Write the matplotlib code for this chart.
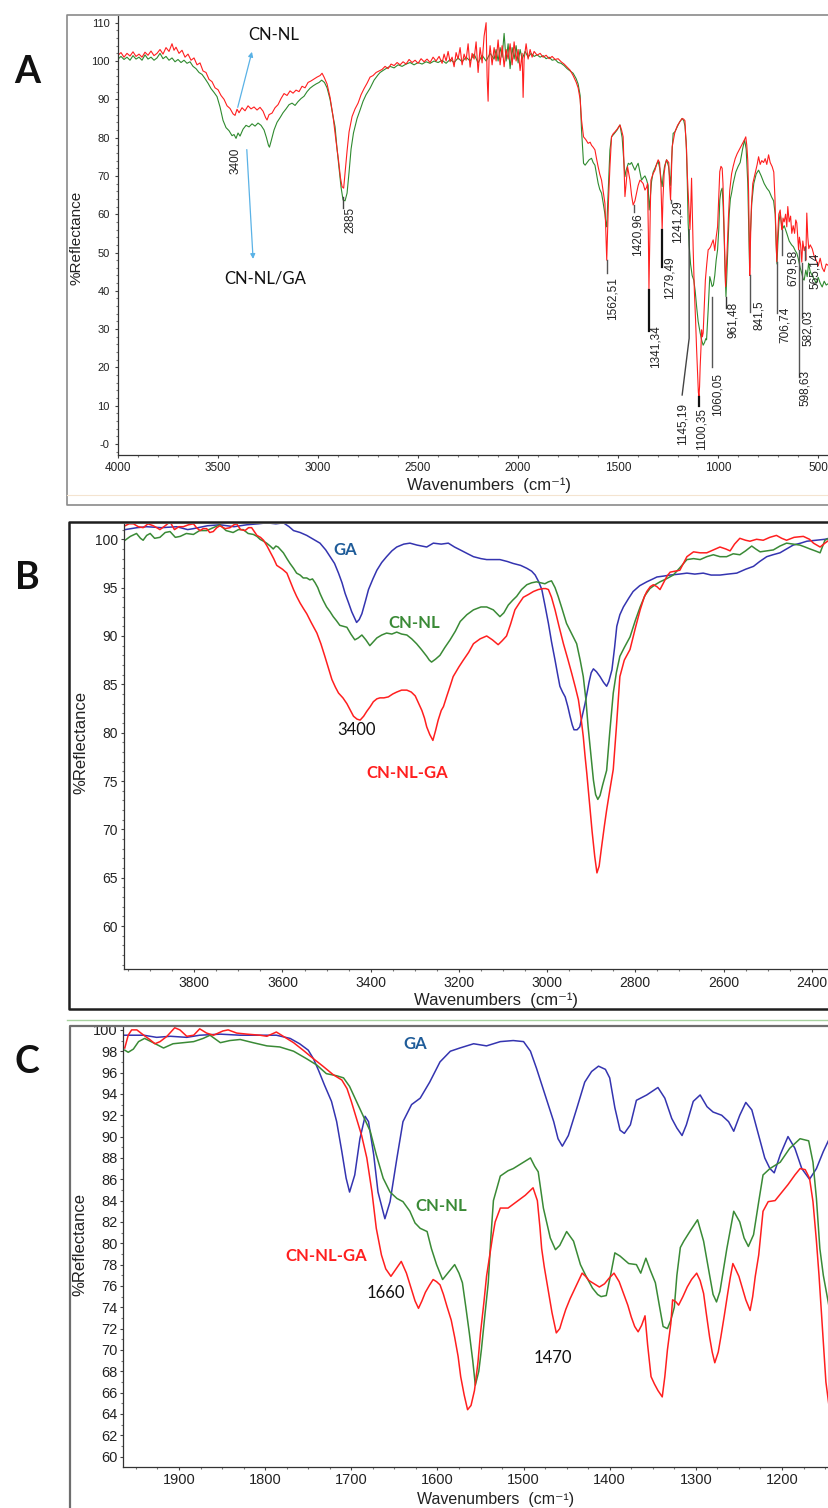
import matplotlib
matplotlib.use('Agg')
import matplotlib.pyplot as plt
from matplotlib.lines import Line2D
from matplotlib.ticker import MultipleLocator, FuncFormatter

plt.rcParams['font.family'] = ['Liberation Sans', 'DejaVu Sans']

# ---------------------------------------------------------------
# spectra: (wavenumber cm-1, %reflectance)
# ---------------------------------------------------------------

# panel A, full range
a_red = [(4000, 101.5), (3985, 102.2), (3970, 101.0), (3955, 102.0), (3940, 101.3), (3925, 102.4),
         (3910, 101.2), (3895, 101.8), (3880, 101.0), (3865, 102.3), (3850, 101.5), (3835, 102.6),
         (3820, 101.4), (3805, 102.0), (3790, 103.0), (3775, 101.8), (3760, 103.5), (3745, 102.5),
         (3730, 104.5), (3720, 102.8), (3710, 103.6), (3695, 102.0), (3680, 102.8), (3665, 101.0),
         (3650, 101.8), (3635, 100.2), (3620, 100.8), (3605, 99.0), (3590, 99.5), (3575, 97.4),
         (3560, 97.0), (3545, 95.2), (3530, 94.6), (3515, 93.0), (3500, 92.5), (3485, 91.0),
         (3470, 90.0), (3455, 88.3), (3440, 87.6), (3425, 86.2), (3415, 85.8), (3405, 87.4),
         (3395, 86.5), (3380, 87.8), (3365, 87.0), (3350, 88.3), (3335, 87.5), (3320, 88.0),
         (3305, 87.2), (3290, 87.9), (3275, 86.9), (3262, 85.2), (3255, 84.6), (3245, 86.0),
         (3230, 86.4), (3215, 87.8), (3200, 88.6), (3185, 90.2), (3170, 91.5), (3155, 91.0),
         (3140, 92.2), (3125, 91.6), (3110, 92.4), (3095, 92.0), (3080, 93.4), (3065, 93.0),
         (3050, 94.4), (3035, 94.8), (3020, 95.3), (3005, 95.8), (2990, 96.2), (2980, 96.8),
         (2970, 95.8), (2955, 94.0), (2940, 90.5), (2925, 85.5), (2910, 79.0), (2898, 74.2),
         (2888, 69.5), (2880, 67.2), (2872, 66.8), (2865, 70.7), (2855, 76.5), (2845, 81.5),
         (2830, 85.5), (2815, 87.5), (2800, 89.0), (2785, 91.2), (2770, 92.8), (2755, 94.2),
         (2740, 95.8), (2725, 96.2), (2710, 97.0), (2695, 97.4), (2680, 97.8), (2665, 98.6),
         (2650, 98.0), (2635, 99.2), (2620, 98.8), (2605, 99.6), (2590, 99.0), (2575, 99.8),
         (2560, 99.2), (2545, 100.4), (2530, 99.6), (2515, 100.2), (2500, 99.4), (2485, 100.6),
         (2470, 99.8), (2455, 100.5), (2440, 99.6), (2425, 101.0), (2410, 100.0), (2395, 101.2),
         (2380, 99.4), (2370, 101.8), (2360, 100.0), (2350, 102.5), (2340, 99.8), (2330, 101.0),
         (2320, 98.5), (2310, 102.2), (2300, 100.5), (2290, 103.5), (2280, 99.0), (2270, 101.8),
         (2260, 100.2), (2250, 104.5), (2240, 98.4), (2230, 102.0), (2220, 100.5), (2210, 105.0),
         (2200, 97.0), (2190, 103.5), (2180, 99.5), (2170, 106.5), (2160, 110.0), (2155, 96.0),
         (2150, 89.5), (2145, 101.0), (2140, 104.0), (2130, 99.0), (2120, 103.5), (2110, 100.0),
         (2100, 105.5), (2090, 99.0), (2080, 104.0), (2070, 98.5), (2060, 103.0), (2050, 100.5),
         (2040, 104.5), (2030, 99.0), (2020, 105.0), (2010, 100.0), (2000, 103.0), (1990, 97.5),
         (1980, 102.0), (1975, 90.5), (1970, 100.5), (1960, 104.5), (1950, 100.5), (1940, 103.0),
         (1930, 101.0), (1920, 102.5), (1905, 101.5), (1890, 102.0), (1875, 101.0), (1860, 101.5),
         (1845, 100.6), (1830, 101.2), (1815, 100.4), (1800, 100.6), (1785, 99.8), (1770, 99.2),
         (1755, 98.4), (1740, 97.6), (1725, 96.2), (1710, 94.5), (1700, 93.0), (1690, 90.0),
         (1683, 84.6), (1673, 80.2), (1662, 79.5), (1650, 78.5), (1640, 78.8), (1633, 78.0),
         (1625, 77.5), (1616, 76.8), (1608, 74.5), (1600, 72.4), (1592, 70.5), (1583, 68.9),
         (1575, 66.0), (1566, 62.8), (1561, 55.0), (1557, 48.0), (1553, 55.0), (1548, 64.0),
         (1541, 72.4), (1533, 80.2), (1525, 81.0), (1516, 81.5), (1505, 82.2), (1491, 83.3),
         (1483, 82.0), (1475, 80.2), (1470, 72.0), (1466, 64.6), (1460, 68.0), (1453, 72.4),
         (1441, 68.9), (1433, 65.0), (1425, 62.4), (1416, 63.5), (1408, 65.5), (1400, 67.5),
         (1391, 68.9), (1383, 68.5), (1375, 68.0), (1366, 66.3), (1358, 67.0), (1353, 68.0),
         (1349, 55.0), (1346, 40.2), (1343, 50.0), (1339, 62.0), (1336, 68.9), (1326, 70.5),
         (1316, 71.5), (1308, 73.0), (1300, 74.2), (1293, 73.5), (1286, 68.0), (1283, 62.0),
         (1280, 55.9), (1276, 64.0), (1270, 70.7), (1264, 73.0), (1258, 74.2), (1247, 73.5),
         (1243, 68.0), (1238, 63.7), (1234, 70.0), (1230, 77.6), (1216, 81.5), (1203, 83.2),
         (1191, 84.2), (1180, 85.0), (1172, 84.8), (1166, 84.4), (1162, 80.0), (1158, 76.8),
         (1154, 70.0), (1150, 65.5), (1145, 60.0), (1141, 56.0), (1137, 62.0), (1133, 69.4),
         (1129, 60.0), (1125, 51.0), (1119, 40.0), (1113, 32.4), (1108, 25.0), (1103, 18.5),
         (1099, 13.5), (1096, 12.4), (1093, 15.0), (1090, 20.2), (1086, 25.0), (1083, 29.8),
         (1079, 28.0), (1075, 29.0), (1070, 35.0), (1064, 42.8), (1057, 47.0), (1050, 50.7),
         (1044, 51.0), (1038, 51.5), (1031, 52.5), (1025, 53.3), (1021, 52.0), (1017, 50.5),
         (1010, 54.0), (1003, 56.7), (998, 63.0), (992, 71.1), (986, 72.5), (980, 72.0),
         (976, 68.0), (972, 60.0), (967, 50.0), (963, 41.1), (958, 47.0), (953, 53.3),
         (948, 60.0), (942, 66.3), (933, 70.5), (925, 72.5), (915, 74.5), (905, 75.8),
         (895, 76.8), (885, 77.8), (875, 78.8), (868, 79.5), (862, 80.2), (857, 78.0),
         (852, 74.0), (848, 66.0), (845, 54.0), (842, 44.0), (839, 52.0), (834, 62.0),
         (827, 68.0), (815, 70.7), (805, 73.0), (798, 75.0), (790, 73.0), (782, 74.0),
         (773, 73.5), (765, 74.5), (757, 73.0), (748, 75.5), (740, 73.5), (730, 72.4),
         (722, 71.0), (716, 64.0), (711, 54.0), (707, 47.6), (703, 54.0), (697, 60.0),
         (690, 61.1), (684, 57.0), (680, 55.9), (676, 59.0), (670, 58.0), (663, 60.0),
         (657, 56.7), (652, 62.0), (645, 58.0), (638, 59.5), (632, 55.0), (625, 57.0),
         (618, 55.0), (612, 58.5), (607, 57.7), (601, 53.0), (598, 50.7), (594, 54.0),
         (588, 52.0), (582, 47.5), (577, 53.0), (570, 50.5), (565, 51.5), (562, 48.0),
         (557, 60.3), (552, 54.0), (547, 51.0), (540, 52.0), (530, 51.0), (520, 49.0),
         (510, 48.0), (500, 46.5), (490, 48.5), (480, 46.0), (470, 45.0), (460, 47.0),
         (446, 46.5)]

a_green = [(4000, 100.5), (3985, 101.2), (3970, 100.4), (3955, 101.0), (3940, 100.2), (3925, 101.4),
           (3910, 100.5), (3895, 101.0), (3880, 100.2), (3865, 101.6), (3850, 100.5), (3835, 101.0),
           (3820, 100.2), (3805, 100.8), (3790, 102.0), (3775, 100.6), (3760, 101.2), (3745, 100.2),
           (3730, 100.8), (3715, 99.8), (3700, 100.4), (3685, 99.6), (3670, 100.2), (3655, 99.4),
           (3640, 99.8), (3625, 98.6), (3610, 98.0), (3595, 97.0), (3580, 96.5), (3565, 95.4),
           (3550, 94.2), (3535, 92.8), (3520, 91.8), (3505, 90.7), (3490, 88.0), (3475, 84.5),
           (3460, 82.6), (3445, 81.8), (3430, 80.5), (3420, 80.8), (3410, 79.8), (3400, 81.2),
           (3390, 80.4), (3375, 82.2), (3360, 83.2), (3345, 82.8), (3330, 83.6), (3315, 83.0),
           (3300, 83.8), (3285, 83.2), (3270, 82.0), (3258, 80.0), (3248, 78.0), (3243, 77.5),
           (3235, 79.0), (3220, 82.0), (3205, 84.0), (3190, 85.2), (3175, 86.5), (3160, 87.5),
           (3145, 88.6), (3130, 89.0), (3115, 88.4), (3100, 89.4), (3085, 90.2), (3070, 90.8),
           (3055, 92.0), (3040, 92.9), (3025, 93.5), (3010, 94.0), (2995, 94.4), (2982, 95.0),
           (2968, 94.4), (2955, 93.0), (2940, 90.0), (2925, 85.5), (2915, 82.8), (2905, 77.0),
           (2895, 72.0), (2885, 67.0), (2875, 63.7), (2865, 63.5), (2855, 65.5), (2845, 71.0),
           (2835, 77.0), (2823, 81.2), (2805, 85.0), (2790, 87.2), (2775, 89.5), (2760, 91.2),
           (2740, 92.9), (2720, 95.0), (2700, 96.4), (2690, 97.0), (2673, 97.6), (2655, 98.2),
           (2640, 98.6), (2620, 98.2), (2600, 99.0), (2580, 98.6), (2560, 99.2), (2540, 99.6),
           (2520, 99.0), (2500, 99.6), (2480, 99.2), (2460, 99.8), (2440, 99.4), (2420, 100.0),
           (2400, 99.6), (2380, 100.2), (2360, 99.4), (2340, 100.4), (2320, 99.6), (2300, 100.8),
           (2280, 99.8), (2260, 101.0), (2240, 100.0), (2220, 101.8), (2200, 99.5), (2180, 101.5),
           (2160, 100.0), (2140, 102.0), (2120, 100.5), (2110, 103.0), (2100, 100.0), (2090, 103.5),
           (2080, 101.0), (2070, 107.2), (2060, 100.0), (2050, 104.5), (2040, 98.0), (2030, 103.5),
           (2020, 100.5), (2010, 104.0), (2000, 99.5), (1990, 103.0), (1980, 100.5), (1965, 102.5),
           (1950, 101.0), (1935, 102.0), (1920, 101.2), (1905, 101.6), (1890, 101.0), (1875, 101.4),
           (1860, 100.6), (1845, 101.0), (1830, 100.2), (1815, 100.4), (1800, 99.6), (1785, 99.4),
           (1770, 98.8), (1755, 98.0), (1740, 97.4), (1725, 96.8), (1710, 95.4), (1700, 94.0),
           (1690, 91.0), (1683, 82.0), (1673, 73.3), (1665, 72.8), (1655, 73.5), (1645, 74.2),
           (1633, 74.6), (1625, 73.5), (1616, 72.8), (1608, 70.5), (1600, 68.1), (1592, 66.5),
           (1583, 65.5), (1575, 63.0), (1566, 60.0), (1561, 57.5), (1557, 56.7), (1552, 63.0),
           (1546, 70.0), (1541, 76.8), (1533, 80.2), (1520, 81.0), (1505, 82.0), (1491, 83.3),
           (1480, 80.0), (1472, 74.0), (1466, 69.8), (1460, 71.5), (1449, 73.3), (1441, 73.0),
           (1433, 73.5), (1425, 72.5), (1416, 71.5), (1408, 72.5), (1400, 73.3), (1391, 71.0),
           (1383, 68.9), (1375, 69.5), (1366, 70.0), (1358, 69.0), (1350, 67.5), (1345, 61.1),
           (1340, 64.0), (1333, 68.5), (1325, 71.0), (1316, 72.0), (1308, 73.0), (1300, 73.8),
           (1292, 72.0), (1285, 69.0), (1280, 67.2), (1275, 70.0), (1268, 72.5), (1258, 74.2),
           (1248, 72.5), (1242, 69.5), (1238, 67.5), (1232, 75.0), (1225, 81.1), (1216, 81.5),
           (1203, 83.0), (1191, 84.2), (1180, 85.0), (1172, 84.4), (1166, 83.0), (1160, 79.0),
           (1155, 70.0), (1150, 57.6), (1145, 52.0), (1138, 47.0), (1130, 44.0), (1122, 42.8),
           (1115, 40.0), (1108, 36.0), (1100, 32.0), (1090, 29.0), (1082, 27.0), (1075, 25.8),
           (1068, 26.5), (1062, 27.5), (1058, 27.2), (1050, 35.0), (1042, 43.7), (1036, 42.5),
           (1030, 41.1), (1024, 41.5), (1017, 44.0), (1010, 48.0), (1003, 50.7), (997, 56.0),
           (992, 63.7), (986, 66.0), (980, 66.8), (975, 62.0), (970, 54.0), (966, 46.0),
           (961, 38.5), (957, 44.0), (951, 52.0), (945, 60.0), (939, 64.0), (933, 65.5),
           (925, 68.0), (912, 71.0), (900, 72.5), (890, 73.5), (878, 77.0), (868, 79.4),
           (860, 77.0), (852, 68.0), (847, 55.0), (843, 46.0), (839, 55.0), (832, 63.0),
           (822, 68.0), (810, 70.5), (798, 71.5), (785, 70.0), (770, 68.0), (757, 66.8),
           (745, 66.0), (733, 64.5), (723, 63.5), (715, 60.0), (710, 52.0), (706, 47.0),
           (702, 52.0), (696, 58.0), (690, 60.3), (680, 56.0), (670, 57.0), (657, 55.0),
           (645, 53.0), (633, 52.0), (624, 51.5), (615, 50.5), (607, 49.8), (600, 48.5),
           (590, 46.0), (582, 44.6), (575, 43.0), (570, 42.8), (562, 45.4), (555, 43.7),
           (548, 47.2), (540, 45.0), (530, 44.0), (520, 43.0), (510, 42.0), (500, 43.5),
           (490, 42.0), (480, 41.0), (470, 42.5), (460, 41.5), (446, 42.0)]

# peak marks of panel A: label, line x, line top, line bottom, text x, text top, colour, width
a_peaks = [('2885', 2877, 64.6, 61.5, 2837, 62.0, '#444444', 1.0),
           ('1562,51', 1557, 48.0, 44.6, 1530, 43.7, '#555555', 1.0),
           ('1420,96', 1423, 62.4, 60.7, 1403, 60.2, '#555555', 1.0),
           ('1341,34', 1346, 40.2, 29.5, 1312, 31.0, '#111111', 1.6),
           ('1279,49', 1280, 55.9, 46.3, 1243, 49.0, '#111111', 1.6),
           ('1241,29', 1238, 63.7, 62.8, 1205, 63.5, '#555555', 1.0),
           ('1145,19', 1145, 55.9, 27.6, 1178, 10.8, '#444444', 1.0),
           ('1100,35', 1096, 12.4, 10.0, 1082, 9.4, '#111111', 1.6),
           ('1060,05', 1030, 38.5, 20.2, 1005, 18.5, '#555555', 1.0),
           ('961,48', 961, 38.5, 35.5, 925, 37.0, '#333333', 1.0),
           ('841,5', 842, 44.0, 34.5, 795, 37.6, '#555555', 1.0),
           ('706,74', 707, 47.6, 34.1, 667, 35.8, '#555555', 1.0),
           ('679,58', 680, 55.9, 49.3, 625, 50.7, '#555555', 1.0),
           ('598,63', 598, 50.7, 17.6, 567, 19.3, '#555555', 1.0),
           ('582,03', 582, 47.2, 32.8, 550, 35.0, '#555555', 1.0),
           ('565,14', 565, 51.5, 48.0, 517, 49.9, '#555555', 1.0)]
a_bend_1145 = (1180, 12.8)

# panel B, 3960-2360
b_ga = [(3957, 101.0), (3930, 101.2), (3908, 101.3), (3875, 101.2), (3840, 101.3), (3815, 101.0),
        (3802, 101.1), (3770, 101.4), (3742, 101.5), (3710, 101.3), (3681, 101.5), (3655, 101.6),
        (3636, 101.7), (3615, 101.6), (3598, 101.7), (3585, 101.3), (3575, 100.9), (3560, 100.7),
        (3545, 100.4), (3530, 100.0), (3515, 99.6), (3502, 98.9), (3492, 98.2), (3482, 97.5),
        (3473, 96.5), (3465, 95.5), (3458, 94.4), (3450, 93.4), (3443, 92.5), (3436, 91.8),
        (3432, 91.4), (3426, 91.7), (3420, 92.3), (3412, 93.6), (3405, 94.8), (3395, 95.9),
        (3386, 96.8), (3375, 97.6), (3364, 98.2), (3352, 98.8), (3341, 99.2), (3325, 99.5),
        (3311, 99.6), (3295, 99.4), (3273, 99.2), (3258, 99.6), (3240, 99.5), (3224, 99.6),
        (3210, 99.2), (3197, 98.9), (3180, 98.5), (3167, 98.2), (3150, 98.0), (3137, 97.9),
        (3120, 97.9), (3107, 97.9), (3090, 97.7), (3077, 97.5), (3060, 97.3), (3046, 97.0),
        (3035, 96.7), (3027, 96.3), (3019, 95.6), (3012, 94.8), (3005, 93.2), (2997, 91.3),
        (2990, 89.4), (2982, 87.5), (2976, 86.0), (2971, 84.8), (2965, 84.2), (2959, 83.7),
        (2953, 82.7), (2948, 81.7), (2943, 80.8), (2939, 80.3), (2932, 80.3), (2926, 80.6),
        (2920, 81.8), (2914, 83.0), (2905, 85.2), (2900, 86.2), (2895, 86.6), (2888, 86.3),
        (2880, 85.8), (2872, 85.2), (2865, 84.8), (2860, 85.3), (2853, 86.5), (2847, 88.8),
        (2842, 91.0), (2835, 92.2), (2827, 93.0), (2815, 93.9), (2805, 94.6), (2790, 95.2),
        (2774, 95.6), (2760, 95.9), (2751, 96.1), (2735, 96.2), (2721, 96.3), (2700, 96.4),
        (2683, 96.5), (2665, 96.4), (2646, 96.5), (2628, 96.3), (2608, 96.3), (2590, 96.4),
        (2570, 96.5), (2550, 96.9), (2532, 97.2), (2518, 97.7), (2502, 98.2), (2488, 98.4),
        (2472, 98.6), (2457, 99.0), (2442, 99.4), (2425, 99.6), (2411, 99.8), (2390, 99.9),
        (2370, 100.0), (2361, 100.1)]

b_cn = [(3957, 99.9), (3945, 100.3), (3931, 100.6), (3922, 100.1), (3916, 99.9), (3908, 100.4),
        (3900, 100.6), (3890, 100.1), (3878, 100.2), (3866, 100.7), (3855, 100.8), (3843, 100.2),
        (3832, 100.3), (3818, 100.6), (3802, 100.5), (3788, 100.9), (3772, 100.9), (3757, 101.2),
        (3742, 101.5), (3728, 100.9), (3712, 100.7), (3700, 101.0), (3689, 101.0), (3678, 100.6),
        (3666, 100.5), (3658, 100.3), (3651, 100.0), (3643, 99.8), (3636, 99.6), (3628, 99.3),
        (3621, 99.0), (3615, 99.3), (3610, 99.2), (3604, 98.9), (3598, 98.6), (3590, 98.0),
        (3583, 97.5), (3575, 97.0), (3568, 96.5), (3560, 96.3), (3553, 96.0), (3545, 96.0),
        (3538, 95.8), (3532, 95.9), (3526, 95.5), (3520, 95.0), (3515, 94.4), (3508, 93.7),
        (3500, 93.0), (3492, 92.5), (3485, 92.0), (3478, 91.6), (3470, 91.1), (3462, 91.0),
        (3454, 90.9), (3445, 90.2), (3436, 89.6), (3428, 89.8), (3420, 90.1), (3411, 89.6),
        (3402, 89.0), (3394, 89.4), (3386, 89.8), (3375, 90.1), (3364, 90.3), (3352, 90.2),
        (3341, 90.4), (3330, 90.2), (3318, 90.1), (3307, 89.7), (3296, 89.2), (3285, 88.6),
        (3273, 87.9), (3267, 87.5), (3262, 87.3), (3253, 87.6), (3243, 88.0), (3232, 88.8),
        (3220, 89.6), (3208, 90.5), (3197, 91.5), (3182, 92.2), (3167, 92.7), (3150, 93.0),
        (3137, 93.0), (3122, 92.7), (3107, 92.0), (3098, 92.4), (3088, 93.2), (3078, 93.7),
        (3069, 94.1), (3058, 94.8), (3046, 95.3), (3035, 95.5), (3024, 95.6), (3014, 95.5),
        (3005, 95.4), (2997, 95.6), (2990, 95.7), (2982, 95.0), (2975, 94.1), (2966, 92.8),
        (2956, 91.3), (2945, 90.3), (2933, 89.2), (2925, 87.5), (2918, 85.8), (2912, 83.4),
        (2907, 80.6), (2901, 77.8), (2895, 75.1), (2890, 73.6), (2885, 73.1), (2880, 73.5),
        (2874, 74.6), (2865, 76.1), (2858, 80.0), (2850, 84.1), (2843, 86.2), (2835, 87.9),
        (2825, 88.8), (2812, 89.9), (2800, 91.6), (2789, 93.0), (2778, 94.2), (2767, 94.9),
        (2755, 95.3), (2744, 95.6), (2730, 95.9), (2714, 96.3), (2700, 97.0), (2683, 97.9),
        (2668, 98.0), (2653, 97.9), (2638, 98.2), (2623, 98.4), (2608, 98.2), (2593, 98.2),
        (2578, 98.5), (2563, 98.4), (2550, 98.8), (2536, 99.3), (2527, 99.0), (2517, 98.7),
        (2502, 98.8), (2487, 98.9), (2472, 99.3), (2457, 99.6), (2442, 99.5), (2427, 99.4),
        (2415, 99.2), (2404, 99.0), (2392, 98.8), (2381, 98.6), (2375, 99.3), (2370, 99.9),
        (2361, 100.1)]

b_cnga = [(3957, 101.4), (3948, 101.6), (3938, 101.6), (3927, 101.3), (3916, 101.2), (3905, 101.6),
          (3893, 101.4), (3885, 101.2), (3878, 101.0), (3866, 101.4), (3855, 101.8), (3845, 101.0),
          (3835, 101.3), (3825, 101.3), (3813, 101.5), (3802, 101.6), (3795, 101.2), (3787, 100.9),
          (3780, 101.1), (3772, 101.1), (3765, 100.7), (3757, 100.8), (3749, 101.2), (3742, 101.4),
          (3730, 101.1), (3719, 101.2), (3710, 101.5), (3704, 101.6), (3695, 101.0), (3685, 100.9),
          (3677, 101.2), (3670, 101.2), (3664, 100.8), (3658, 100.4), (3650, 100.2), (3643, 99.9),
          (3635, 99.3), (3628, 98.7), (3620, 98.0), (3613, 97.3), (3600, 96.9), (3590, 96.5),
          (3583, 95.7), (3575, 94.8), (3568, 94.1), (3560, 93.4), (3552, 92.8), (3545, 92.3),
          (3535, 91.4), (3522, 90.3), (3513, 89.2), (3504, 87.9), (3496, 86.7), (3488, 85.5),
          (3480, 84.7), (3473, 84.1), (3463, 83.6), (3454, 83.0), (3446, 82.3), (3439, 81.7),
          (3431, 81.4), (3424, 81.3), (3416, 81.7), (3409, 82.2), (3401, 82.7), (3394, 83.2),
          (3386, 83.5), (3379, 83.6), (3370, 83.6), (3360, 83.7), (3350, 84.0), (3341, 84.2),
          (3330, 84.4), (3318, 84.4), (3308, 84.2), (3299, 83.8), (3291, 83.0), (3284, 82.3),
          (3278, 81.5), (3273, 80.6), (3266, 79.8), (3259, 79.2), (3253, 80.2), (3247, 81.3),
          (3240, 82.3), (3235, 82.7), (3228, 83.7), (3220, 84.8), (3213, 85.8), (3200, 86.8),
          (3190, 87.5), (3178, 88.3), (3167, 89.2), (3152, 89.7), (3137, 90.0), (3124, 89.6),
          (3111, 89.1), (3102, 89.5), (3092, 90.0), (3083, 91.2), (3073, 92.7), (3063, 93.4),
          (3054, 94.0), (3042, 94.3), (3031, 94.6), (3020, 94.8), (3009, 94.9), (3003, 94.9),
          (2997, 94.8), (2990, 94.0), (2982, 92.7), (2973, 91.0), (2963, 89.2), (2953, 87.6),
          (2944, 86.1), (2936, 84.7), (2929, 83.4), (2923, 81.5), (2918, 79.6), (2914, 77.6),
          (2910, 75.8), (2904, 72.8), (2898, 69.8), (2892, 67.2), (2887, 65.5), (2882, 66.2),
          (2877, 68.0), (2870, 70.4), (2865, 72.0), (2858, 74.0), (2850, 76.2), (2843, 80.5),
          (2835, 85.8), (2825, 87.5), (2812, 88.6), (2800, 90.8), (2789, 92.7), (2780, 94.0),
          (2774, 94.6), (2766, 95.1), (2759, 95.3), (2751, 95.1), (2744, 94.8), (2735, 95.6),
          (2728, 96.2), (2721, 96.6), (2710, 96.7), (2699, 96.8), (2690, 97.6), (2683, 98.2),
          (2668, 98.7), (2653, 98.6), (2638, 98.6), (2623, 98.9), (2608, 99.2), (2595, 99.0),
          (2585, 98.8), (2575, 99.5), (2563, 100.1), (2550, 99.9), (2540, 99.8), (2525, 100.0),
          (2510, 99.9), (2495, 100.2), (2480, 100.4), (2468, 100.1), (2457, 99.9), (2440, 100.2),
          (2419, 100.3), (2405, 100.0), (2396, 99.6), (2381, 99.2), (2370, 99.6), (2361, 99.9)]

# panel C, 1965-1145
c_ga = [(1963, 99.5), (1941, 99.5), (1926, 99.3), (1910, 99.4), (1891, 99.3), (1876, 99.5),
        (1852, 99.6), (1829, 99.5), (1806, 99.5), (1787, 99.5), (1771, 99.2), (1760, 98.7),
        (1750, 98.1), (1744, 97.3), (1738, 96.2), (1731, 94.8), (1723, 93.3), (1717, 91.4),
        (1711, 88.6), (1706, 86.1), (1702, 84.8), (1696, 86.4), (1690, 89.8), (1684, 91.9),
        (1680, 91.4), (1674, 88.3), (1669, 84.8), (1661, 82.3), (1655, 83.9), (1647, 88.0),
        (1640, 91.4), (1630, 93.0), (1620, 93.6), (1609, 95.1), (1597, 97.0), (1585, 98.0),
        (1574, 98.3), (1558, 98.7), (1543, 98.5), (1527, 98.9), (1512, 99.0), (1500, 98.9),
        (1492, 98.0), (1485, 96.4), (1475, 93.9), (1465, 91.4), (1460, 89.8), (1455, 89.1),
        (1448, 90.1), (1438, 92.7), (1429, 95.1), (1421, 96.1), (1413, 96.6), (1405, 96.3),
        (1400, 95.5), (1394, 92.7), (1388, 90.6), (1383, 90.3), (1376, 91.1), (1369, 93.4),
        (1357, 93.9), (1344, 94.6), (1336, 93.6), (1328, 91.7), (1322, 90.8), (1316, 90.1),
        (1311, 91.1), (1303, 93.3), (1295, 93.9), (1287, 92.8), (1280, 92.3), (1270, 92.0),
        (1262, 91.4), (1256, 90.5), (1249, 92.0), (1242, 93.2), (1235, 92.5), (1227, 90.1),
        (1220, 88.0), (1214, 87.0), (1209, 86.6), (1202, 88.3), (1193, 90.0), (1185, 88.9),
        (1177, 87.0), (1168, 86.0), (1160, 87.0), (1152, 88.6), (1145, 89.8)]

c_cn = [(1963, 98.1), (1959, 97.9), (1953, 98.2), (1947, 98.9), (1940, 99.2), (1930, 98.8),
        (1918, 98.3), (1907, 98.7), (1895, 98.8), (1883, 98.9), (1872, 99.2), (1864, 99.5),
        (1852, 98.8), (1841, 99.0), (1829, 99.1), (1814, 98.8), (1798, 98.5), (1783, 98.4),
        (1767, 98.0), (1752, 97.3), (1740, 96.7), (1729, 95.9), (1717, 95.7), (1709, 95.5),
        (1702, 94.7), (1694, 93.3), (1686, 91.9), (1678, 90.5), (1671, 88.3), (1663, 86.1),
        (1655, 84.8), (1647, 84.2), (1640, 83.9), (1632, 83.0), (1626, 81.9), (1620, 81.4),
        (1612, 81.1), (1607, 79.5), (1601, 78.0), (1594, 76.6), (1587, 77.3), (1580, 78.0),
        (1575, 77.2), (1571, 76.3), (1567, 74.0), (1563, 71.6), (1559, 69.0), (1556, 66.7),
        (1552, 68.0), (1549, 70.0), (1545, 73.2), (1541, 76.3), (1538, 80.5), (1535, 84.0),
        (1527, 86.3), (1518, 86.8), (1512, 87.0), (1500, 87.6), (1492, 88.0), (1487, 87.2),
        (1483, 86.7), (1477, 83.3), (1469, 80.5), (1463, 79.4), (1458, 79.8), (1450, 81.1),
        (1442, 80.2), (1434, 78.0), (1428, 77.0), (1420, 75.8), (1414, 75.2), (1410, 75.0),
        (1404, 75.1), (1399, 77.0), (1394, 79.1), (1388, 78.8), (1378, 78.1), (1369, 78.0),
        (1364, 77.2), (1358, 78.6), (1353, 77.5), (1347, 76.3), (1342, 74.0), (1338, 72.2),
        (1333, 72.0), (1329, 72.8), (1325, 74.0), (1322, 77.0), (1318, 79.6), (1314, 80.2),
        (1307, 81.1), (1298, 82.2), (1291, 80.2), (1284, 77.0), (1280, 75.2), (1276, 74.5),
        (1272, 75.5), (1268, 77.5), (1264, 79.5), (1256, 83.0), (1249, 82.0), (1244, 80.5),
        (1239, 79.7), (1233, 80.8), (1227, 83.9), (1222, 86.4), (1214, 87.0), (1202, 87.6),
        (1191, 88.9), (1179, 89.8), (1169, 89.6), (1164, 87.6), (1160, 84.2), (1156, 79.5),
        (1152, 77.0), (1145, 73.9)]

c_cnga = [(1963, 98.3), (1959, 99.5), (1955, 100.0), (1949, 100.0), (1941, 99.5), (1934, 99.1),
          (1928, 98.7), (1922, 98.9), (1914, 99.4), (1905, 100.2), (1899, 100.0), (1891, 99.4),
          (1883, 99.5), (1876, 100.1), (1868, 99.7), (1860, 99.5), (1849, 99.9), (1843, 100.0),
          (1833, 99.7), (1821, 99.6), (1806, 99.5), (1798, 99.4), (1787, 99.8), (1779, 99.4),
          (1767, 98.8), (1756, 98.1), (1744, 97.3), (1733, 96.6), (1721, 95.8), (1711, 95.3),
          (1705, 94.5), (1700, 93.3), (1694, 91.7), (1688, 90.1), (1682, 88.0), (1676, 84.8),
          (1671, 81.4), (1665, 78.9), (1660, 77.6), (1654, 76.9), (1648, 77.6), (1642, 78.3),
          (1636, 77.2), (1631, 75.9), (1626, 74.6), (1622, 73.9), (1618, 74.6), (1614, 75.4),
          (1609, 76.1), (1605, 76.6), (1601, 76.4), (1597, 76.1), (1593, 75.2), (1589, 74.1),
          (1584, 72.8), (1580, 71.2), (1576, 69.4), (1573, 67.5), (1569, 65.8), (1565, 64.4),
          (1561, 64.8), (1557, 66.2), (1553, 68.8), (1550, 71.6), (1546, 74.5), (1543, 76.9),
          (1539, 79.0), (1536, 80.6), (1533, 82.0), (1527, 83.3), (1518, 83.3), (1508, 83.9),
          (1498, 84.5), (1489, 85.2), (1484, 84.0), (1481, 81.5), (1479, 79.5), (1476, 77.8),
          (1472, 75.9), (1467, 73.5), (1462, 71.6), (1458, 72.0), (1455, 72.8), (1451, 73.8),
          (1446, 74.8), (1439, 76.0), (1432, 77.2), (1428, 76.9), (1424, 76.5), (1418, 76.2),
          (1412, 75.9), (1406, 76.2), (1401, 76.7), (1395, 77.2), (1389, 76.4), (1384, 75.3),
          (1379, 74.2), (1375, 73.1), (1371, 72.2), (1367, 71.7), (1363, 72.3), (1359, 73.2),
          (1356, 70.5), (1352, 67.5), (1348, 66.8), (1344, 66.2), (1339, 65.6), (1336, 67.5),
          (1333, 70.0), (1329, 72.5), (1327, 74.7), (1323, 74.5), (1320, 74.2), (1315, 75.0),
          (1310, 75.9), (1305, 76.6), (1299, 77.2), (1295, 76.5), (1291, 75.3), (1288, 73.5),
          (1284, 71.2), (1281, 69.8), (1278, 68.8), (1274, 69.8), (1271, 71.2), (1267, 73.2),
          (1263, 75.3), (1260, 76.8), (1257, 78.1), (1254, 77.6), (1250, 76.9), (1246, 75.8),
          (1242, 74.7), (1237, 73.7), (1234, 75.0), (1231, 76.9), (1227, 78.9), (1222, 83.0),
          (1216, 83.9), (1208, 84.0), (1200, 84.8), (1193, 85.5), (1185, 86.4), (1179, 87.0),
          (1173, 86.9), (1168, 86.1), (1164, 83.9), (1160, 80.2), (1157, 77.0), (1153, 72.0),
          (1149, 67.0), (1145, 64.5)]

RED = '#ff1f1f'
GREEN = '#3a8a36'
BLUE = '#3434b0'

W, H = 829, 1508
fig = plt.figure(figsize=(W / 100, H / 100), dpi=100)


def rect(l, t, r, b):
    # pixel box -> figure fraction
    return [l / W, 1 - b / H, (r - l) / W, (b - t) / H]


def ftext(px, py, s, **kw):
    fig.text(px / W, 1 - py / H, s, **kw)


def fline(xs, ys, **kw):
    fig.add_artist(Line2D([x / W for x in xs], [1 - y / H for y in ys],
                          transform=fig.transFigure, **kw))


def dress(ax, xlim, ylim, xmaj, xmin, ymaj, ymin, fs, xpad, ypad):
    ax.set_xlim(*xlim)
    ax.set_ylim(*ylim)
    ax.spines['top'].set_visible(False)
    ax.spines['right'].set_visible(False)
    for s in ('left', 'bottom'):
        ax.spines[s].set_color('#333333')
        ax.spines[s].set_linewidth(0.9)
    ax.xaxis.set_major_locator(MultipleLocator(xmaj))
    ax.xaxis.set_minor_locator(MultipleLocator(xmin))
    ax.yaxis.set_major_locator(MultipleLocator(ymaj))
    ax.yaxis.set_minor_locator(MultipleLocator(ymin))
    ax.tick_params(which='major', length=2.5, width=0.8, color='#444444',
                   labelsize=fs, labelcolor='#222222')
    ax.tick_params(which='minor', length=1.5, width=0.8, color='#777777')
    ax.tick_params(axis='x', which='major', pad=xpad)
    ax.tick_params(axis='y', which='major', pad=ypad)
    ax.patch.set_alpha(0)


XLAB = 'Wavenumbers  (cm\u207b\u00b9)'

# ---------------- panel frames ----------------
fline([829, 67, 67, 829], [15, 15, 505, 505], color='#8a8a8a', lw=1.2)
fline([67, 829], [495, 495], color='#f4e4d0', lw=0.8)
fline([829, 69, 69, 829], [522, 522, 1009, 1009], color='#1e1e1e', lw=1.8)
fline([67, 829], [1020, 1020], color='#a8d2a0', lw=1.0)
fline([829, 70, 70], [1026, 1026, 1508], color='#6e6e6e', lw=1.6)

# ---------------- panel A ----------------
axA = fig.add_axes(rect(118, 16, 829, 455))
x, y = zip(*a_green)
axA.plot(x, y, color='#2f8a2f', lw=0.8)
x, y = zip(*a_red)
axA.plot(x, y, color=RED, lw=0.8)
dress(axA, (4000, 446), (-2.87, 111.75), 500, 100, 10, 2, 8.5, 2.5, 3.5)
axA.yaxis.set_major_formatter(FuncFormatter(lambda v, p: '-0' if abs(v) < 1e-9 else '%d' % v))
axA.tick_params(axis='y', labelsize=8)

for lab, lx, y1, y2, tx, ty, col, lw in a_peaks:
    if lab == '1145,19':
        bx, by = a_bend_1145
        axA.plot([lx, lx, bx], [y1, y2, by], color=col, lw=lw)
    else:
        axA.plot([lx, lx], [y1, y2], color=col, lw=lw)
    axA.text(tx, ty, lab, rotation=90, ha='center', va='top', fontsize=8.5, color='#222222')
axA.text(3415, 77.3, '3400', rotation=90, ha='center', va='top', fontsize=8.5, color='#222222')

arrow = dict(arrowstyle='-|>', color='#5ab2e6', lw=0.9, mutation_scale=7)
axA.annotate('', xy=(3327, 103.1), xytext=(3405, 87.2), arrowprops=arrow)
axA.annotate('', xy=(3324, 47.6), xytext=(3357, 77.6), arrowprops=arrow)
axA.text(3224, 106.7, 'CN-NL', family='Lato', fontsize=12, ha='center', va='center', color='#111111')
axA.text(3265, 43.3, 'CN-NL/GA', family='Lato', fontsize=12, ha='center', va='center', color='#111111')

ftext(77, 238, '%Reflectance', rotation=90, fontsize=11, ha='center', va='center', color='#222222')
ftext(489, 485, XLAB, fontsize=12, ha='center', va='center', color='#222222')

# ---------------- panel B ----------------
axB = fig.add_axes(rect(124, 524, 829, 969))
for data, col in ((b_ga, BLUE), (b_cn, GREEN), (b_cnga, RED)):
    x, y = zip(*data)
    axB.plot(x, y, color=col, lw=1.1)
dress(axB, (3959.4, 2360.8), (55.56, 101.58), 200, 50, 5, 1, 10, 2.5, 2)

axB.text(3457, 98.9, 'GA', family='Lato', fontweight='bold', fontsize=12,
         ha='center', va='center', color='#1f5c99')
axB.text(3302, 91.3, 'CN-NL', family='Lato', fontweight='bold', fontsize=12,
         ha='center', va='center', color=GREEN)
axB.text(3317, 75.8, 'CN-NL-GA', family='Lato', fontweight='bold', fontsize=12,
         ha='center', va='center', color=RED)
axB.text(3432, 80.3, '3400', family='Lato', fontsize=12, ha='center', va='center', color='#111111')

ftext(81, 743, '%Reflectance', rotation=90, fontsize=12, ha='center', va='center', color='#222222')
ftext(496, 1000, XLAB, fontsize=12, ha='center', va='center', color='#222222')

# ---------------- panel C ----------------
axC = fig.add_axes(rect(122.7, 1027, 829, 1467))
for data, col in ((c_ga, BLUE), (c_cn, GREEN), (c_cnga, RED)):
    x, y = zip(*data)
    axC.plot(x, y, color=col, lw=1.1)
dress(axC, (1965.4, 1145.4), (59.03, 100.27), 100, 25, 2, 1, 10.5, 1.5, 1)

axC.text(1626, 98.7, 'GA', family='Lato', fontweight='bold', fontsize=12,
         ha='center', va='center', color='#1f5c99')
axC.text(1595, 83.5, 'CN-NL', family='Lato', fontweight='bold', fontsize=12,
         ha='center', va='center', color=GREEN)
axC.text(1729, 78.8, 'CN-NL-GA', family='Lato', fontweight='bold', fontsize=12,
         ha='center', va='center', color=RED)
axC.text(1660, 75.3, '1660', family='Lato', fontsize=12, ha='center', va='center', color='#111111')
axC.text(1466, 69.2, '1470', family='Lato', fontsize=12, ha='center', va='center', color='#111111')

ftext(80, 1245, '%Reflectance', rotation=90, fontsize=12, ha='center', va='center', color='#222222')
ftext(496, 1507, XLAB, fontsize=11.5, ha='center', va='bottom', color='#222222')

# panel letters
for lab, py in (('A', 72), ('B', 578), ('C', 1062)):
    ftext(27, py, lab, family='Lato', fontweight='bold', fontsize=27,
          ha='center', va='center', color='#111111')

fig.savefig('out.png', dpi=100)
